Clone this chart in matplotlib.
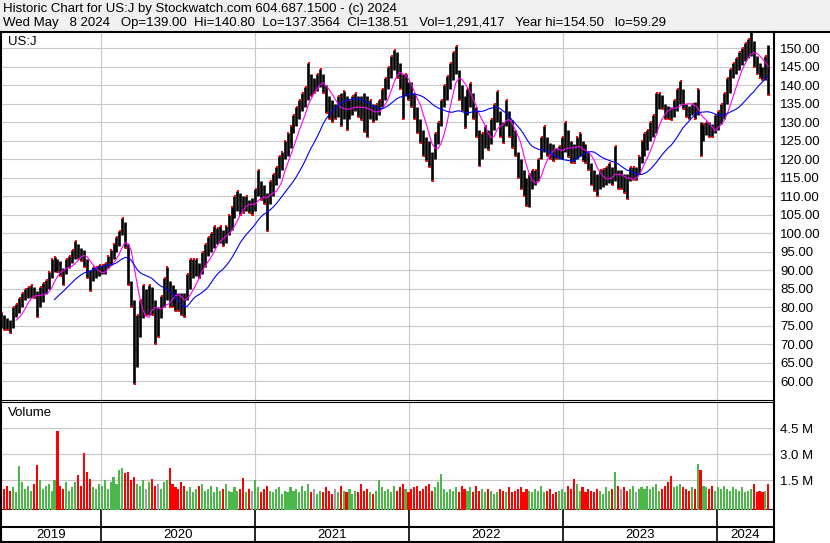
import numpy as np
import pandas as pd
import matplotlib
matplotlib.use("Agg")
import matplotlib.pyplot as plt
from matplotlib.lines import Line2D
from matplotlib.patches import Rectangle

plt.rcParams['font.family'] = ['Liberation Sans', 'DejaVu Sans']

# US:J weekly high / low (May 2019 - May 2024)
hi = [78.5, 78, 77, 76.5, 80, 81, 82.5, 84, 85, 85.5,
      86, 85.5, 84.5, 85.5, 86.5, 87.5, 89.5, 93, 93.5, 93,
      92.5, 90.5, 93, 94, 95.5, 98, 97, 96, 95.5, 93,
      90, 91, 91, 91.5, 91.5, 92, 94, 95.5, 97, 99,
      100.5, 104, 103, 97, 87, 82, 78, 82, 86, 85,
      86, 85.5, 82, 80, 83, 88, 91, 87, 86, 85,
      84, 84, 84, 89, 93, 93, 93, 92, 95, 97,
      99, 100, 102, 101.5, 102, 101, 102, 105, 107, 110,
      111.5, 111, 110, 110, 109, 109.5, 112, 117, 114, 113,
      111, 114, 116, 118, 121, 122, 125, 127, 129, 132,
      134, 136, 138, 139.5, 146, 143, 142, 143, 144.5, 143,
      140, 137, 136, 135, 137, 138, 138.5, 137, 136, 137,
      138, 137, 137, 138, 137, 136, 135, 135, 136, 139,
      142, 145, 148, 149.5, 149, 146, 143, 143, 141, 141,
      138, 134, 131, 128, 126, 125, 122, 127, 130, 136,
      140, 142.5, 146, 149, 150.6, 144, 140, 137, 139, 140.5,
      138, 134, 128, 127, 129, 128, 131, 135, 138.5, 133,
      130, 136, 133, 130.5, 128, 122, 120, 117, 115, 116,
      117, 117, 120, 126, 129, 126, 124.5, 124, 123, 123.5,
      126, 130, 128, 125, 124, 126, 127, 125, 124, 122,
      119, 117, 116, 117, 117.5, 118, 119, 118, 123.6, 117,
      117, 116, 116, 118, 118, 118, 121, 125, 127, 128,
      130, 132, 138, 138, 137.5, 135, 134.5, 134, 136, 139,
      141.2, 139, 135, 134.5, 135, 135.5, 139, 130, 129.5, 130,
      130, 129.5, 132, 133, 135, 138, 142, 144.5, 146, 147.5,
      149, 150, 151.5, 152.5, 154.5, 152, 148, 146, 145, 148,
      151]
lo = [74.5, 74, 74, 73, 74.5, 77.5, 78.5, 80, 82, 82.5,
      82.5, 82.5, 77.5, 80, 81.5, 83.5, 85, 88, 89.5, 89.5,
      88.5, 86, 89, 90.5, 92, 93, 93, 92.5, 91, 88,
      84.5, 87, 88, 88.5, 89, 89, 90.5, 91.5, 93, 95,
      96.5, 99.5, 96, 86, 80, 59.3, 64, 72, 77, 78,
      78, 78, 70, 72, 77, 80, 82, 80, 80, 79,
      79, 78, 77.5, 82, 85, 88, 88.5, 88, 89, 91,
      94, 95, 96, 97, 97.5, 96.5, 97.5, 99.5, 101, 104,
      106, 105, 105.5, 106, 105.5, 105, 106, 110, 109, 108,
      100.5, 108, 110, 113, 115, 117, 120, 121, 123, 127,
      129, 131, 133, 134, 136, 137, 138, 138.5, 139.5, 138,
      132.5, 131, 130, 131, 131.5, 129, 131, 128, 131, 132,
      133, 131.5, 130.5, 127.5, 126, 131, 130, 130.5, 132, 134,
      136, 139, 142, 144, 142, 139, 131, 137, 136, 134,
      131, 127, 124.5, 121, 119.5, 118, 114, 120, 124, 129,
      134, 136, 139, 141.5, 143, 136, 133, 128.5, 132, 134,
      131, 126, 118.2, 120, 123, 122.5, 124, 128, 130, 126,
      124.5, 129, 126, 123, 121, 115, 112, 110, 107.5, 107,
      112, 113, 114, 120, 122, 121, 120, 119.5, 120, 120,
      120, 122, 120.5, 119, 119, 120, 121, 119.5, 119, 117,
      113, 111.5, 110, 112, 112.5, 113, 113.5, 113, 114, 112,
      112, 111, 109.2, 114, 114.5, 114.5, 116, 119, 121, 122.5,
      125, 126, 127, 133.5, 133.5, 131, 131, 130.5, 131.5, 133,
      135, 133.5, 131.5, 131, 132, 131, 132, 121, 125, 126.5,
      126, 126, 127, 128, 129.5, 131, 135, 138, 142, 143,
      144, 145.5, 146.5, 147.5, 148, 145, 143, 142, 141.5, 141.5,
      137.4]
# volume in millions
vol = [1.3, 1.0, 1.2, 0.9, 1.1, 0.8, 2.3, 1.4, 1.0, 1.2,
       0.9, 1.3, 2.4, 1.5, 1.0, 1.2, 1.3, 0.9, 1.5, 4.35,
       1.2, 1.0, 1.4, 0.9, 1.1, 1.4, 1.8, 1.2, 3.05, 2.0,
       1.6, 1.1, 1.0, 1.3, 1.2, 1.5, 1.0, 1.4, 1.7, 1.3,
       2.1, 2.2, 1.9, 2.0, 1.5, 1.7, 1.3, 1.2, 1.5, 1.0,
       1.4, 1.6, 1.2, 1.3, 1.0, 1.4, 1.5, 2.2, 1.3, 1.1,
       1.0, 1.4, 1.2, 0.9, 1.1, 0.8, 1.0, 1.2, 1.3, 0.9,
       1.0, 1.2, 0.8, 1.1, 0.9, 1.0, 1.3, 0.9, 0.8, 1.1,
       0.9, 1.0, 1.65, 0.8, 1.0, 0.9, 1.5, 1.1, 0.8, 1.0,
       1.2, 0.9, 0.8, 1.0, 1.1, 0.7, 0.9, 0.8, 1.1, 0.9,
       1.0, 0.8, 1.2, 0.9, 1.3, 0.8, 1.0, 0.7, 0.9, 0.8,
       1.1, 0.9, 0.7, 1.0, 0.8, 1.2, 0.9, 0.8, 1.0, 0.7,
       0.9, 0.8, 1.3, 0.9, 1.0, 0.8, 0.7, 0.9, 1.5, 1.1,
       0.9, 1.0, 0.8, 1.2, 0.9, 1.1, 1.3, 1.0, 0.8, 1.0,
       1.1, 1.2, 0.9, 1.0, 1.2, 1.3, 0.9, 1.1, 1.4, 1.86,
       1.0, 0.8, 1.0, 0.9, 1.1, 0.8, 1.2, 1.0, 0.9, 1.1,
       0.8, 1.2, 0.9, 1.0, 0.8, 1.0, 0.9, 0.7, 0.8, 1.0,
       0.9, 0.8, 1.1, 0.8, 0.9, 1.0, 1.1, 0.8, 1.0, 0.9,
       0.8, 1.0, 0.9, 1.2, 0.8, 0.9, 1.0, 0.7, 0.8, 0.9,
       1.0, 0.8, 1.2, 1.0, 1.58, 1.3, 0.9, 1.1, 0.8, 1.0,
       0.9, 0.8, 1.0, 0.9, 0.7, 1.1, 0.9, 1.0, 1.96, 1.2,
       1.0, 1.1, 0.9, 1.0, 1.2, 0.8, 1.0, 1.1, 1.0, 1.2,
       1.0, 1.1, 1.3, 0.9, 1.0, 1.2, 1.4, 1.73, 1.1, 1.2,
       1.3, 1.1, 1.0, 0.9, 1.1, 1.0, 2.44, 2.1, 1.2, 1.1,
       1.0, 1.2, 0.9, 1.1, 1.0, 1.2, 1.0, 0.9, 1.1, 1.0,
       0.9, 1.1, 0.8, 0.9, 1.0, 1.28, 0.8, 0.9, 0.8, 0.9,
       1.3]

years = ['2019', '2020', '2021', '2022', '2023', '2024']
price_ticks = np.arange(60, 151, 5)
vol_ticks = [1.5, 3.0, 4.5]

header1 = "Historic Chart for US:J by Stockwatch.com 604.687.1500 - (c) 2024"
header2 = ("Wed May   8 2024   Op=139.00  Hi=140.80  Lo=137.3564  Cl=138.51   "
           "Vol=1,291,417   Year hi=154.50   lo=59.29")

W, H = 830, 543


def box(x0, y0, x1, y1):
    return [x0 / W, 1 - y1 / H, (x1 - x0) / W, (y1 - y0) / H]


def fline(x0, y0, x1, y1, lw=1.5):
    fig.add_artist(Line2D([x0 / W, x1 / W], [1 - y0 / H, 1 - y1 / H],
                          transform=fig.transFigure, color='black', lw=lw))


hi = np.array(hi)
lo = np.array(lo)
vol = np.array(vol)
mid = (hi + lo) / 2
dates = pd.date_range('2019-05-10', periods=len(hi), freq='7D')
xmin, xmax = pd.Timestamp('2019-05-09'), pd.Timestamp('2024-05-14')
ystarts = pd.to_datetime([y + '-01-01' for y in years[1:]])

chg = np.diff(mid, prepend=mid[0] - 1)
up = chg > 0

fig = plt.figure(figsize=(8.3, 5.43), dpi=100)
fig.patches.append(Rectangle((0, 1 - 31 / H), 1, 31 / H, transform=fig.transFigure,
                             color='#F0F0F0', zorder=0))
fig.text(3 / W, 1 - 9 / H, header1, fontsize=9.5, va='center')
fig.text(3 / W, 1 - 23 / H, header2, fontsize=9.5, va='center')

# price panel
ax = fig.add_axes(box(1, 32, 773, 400))
ax.vlines(dates, lo, hi, color='black', lw=1.9, zorder=3)
rdot = np.where(up, hi, lo)
ax.plot(dates + pd.Timedelta(days=2), rdot, 's', color='red', ms=1.8, mew=0, zorder=4)
ma_fast = pd.Series(mid).rolling(6).mean()
ma_slow = pd.Series(mid).rolling(19).mean()
ax.plot(dates, ma_fast, color='#FF00FF', lw=0.8, zorder=5)
ax.plot(dates, ma_slow, color='#0000FF', lw=0.8, zorder=5)
ax.set_xlim(xmin, xmax)
ax.set_ylim(54.95, 154.4)
ax.set_yticks(price_ticks)
ax.set_yticklabels(['%.2f' % t for t in price_ticks])
ax.set_xticks(ystarts)
ax.set_xticklabels([])
ax.yaxis.tick_right()
ax.tick_params(length=0, labelsize=9.5, pad=5)
ax.grid(color='#C8C8C8', lw=0.8)
ax.set_axisbelow(True)
for s in ['left', 'right', 'top']:
    ax.spines[s].set_visible(False)
ax.spines['bottom'].set_linewidth(0.8)
ax.text(7 / 772, 1 - 10 / 368, 'US:J', transform=ax.transAxes, fontsize=9.5, va='center')

# volume panel
vx = fig.add_axes(box(1, 402, 773, 509.5))
vcol = np.where(np.abs(chg) < 0.15, '#A0A0A0', np.where(up, '#4CB84C', '#FF0000'))
vbot = -0.185
vx.bar(dates, vol - vbot, bottom=vbot, width=5, color=vcol, zorder=3)
vx.set_xlim(xmin, xmax)
vx.set_ylim(vbot, 6.02)
vx.set_yticks(vol_ticks)
vx.set_yticklabels(['%.1f M' % t for t in vol_ticks])
vx.set_xticks(ystarts)
vx.set_xticklabels([])
vx.yaxis.tick_right()
vx.tick_params(length=0, labelsize=9.5, pad=5)
vx.grid(color='#C8C8C8', lw=0.8)
vx.set_axisbelow(True)
for s in ['left', 'right']:
    vx.spines[s].set_visible(False)
vx.spines['top'].set_linewidth(0.8)
vx.spines['bottom'].set_linewidth(1.5)
vx.text(7 / 772, 1 - 11 / 107.5, 'Volume', transform=vx.transAxes, fontsize=9.5, va='center')

# year strip
sx = fig.add_axes(box(1, 510, 773, 541.5))
sx.set_xlim(xmin, xmax)
sx.set_ylim(0, 1)
for d in ystarts:
    sx.axvline(d, color='black', lw=1.2)
sx.axhline(0.47, color='black', lw=1.5)
edges = [xmin] + list(ystarts) + [xmax]
for i, y in enumerate(years):
    c = edges[i] + (edges[i + 1] - edges[i]) / 2
    sx.text(c, 0.22, y, ha='center', va='center', fontsize=9.5)
sx.set_xticks([])
sx.set_yticks([])
for s in ['left', 'right', 'top']:
    sx.spines[s].set_visible(False)
sx.spines['bottom'].set_linewidth(1.5)

# frame lines
fline(0, 31.5, 830, 31.5, lw=1.5)
fline(0.7, 31.5, 0.7, 542, lw=1.5)
fline(773.8, 31.5, 773.8, 542, lw=1.5)

fig.savefig('out.png', dpi=100)
